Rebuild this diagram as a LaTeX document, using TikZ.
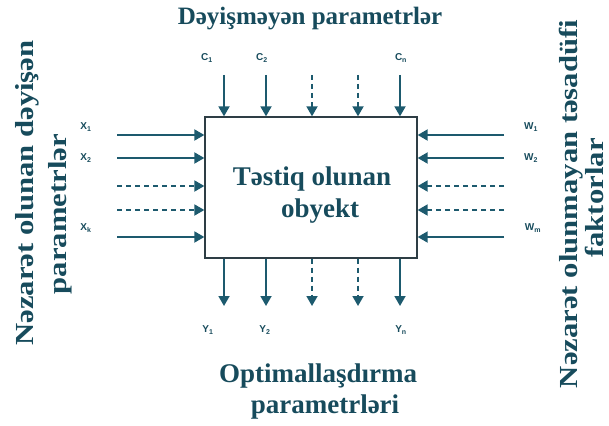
\documentclass[tikz,border=0pt]{standalone}
\usepackage{fontspec}
\setmainfont{Liberation Serif}
\newfontfamily\widefont[FakeStretch=1.18]{Liberation Serif}
\newfontfamily\lblfont{Liberation Sans}
\usetikzlibrary{arrows.meta}
\definecolor{tealtext}{HTML}{174B5C}
\definecolor{tealarrow}{HTML}{1D5A6E}
\definecolor{boxedge}{HTML}{2E3E45}
\tikzset{
  flow/.style={draw=tealarrow, line width=1.8pt, -{Triangle[width=11pt,length=10pt]}},
  dflow/.style={flow, dash pattern=on 5pt off 4pt},
  lbl/.style={font=\lblfont\bfseries\fontsize{10}{12}\selectfont, text=tealtext, inner sep=0pt},
  title/.style={font=\bfseries\fontsize{25}{30}\selectfont, text=tealtext, inner sep=0pt, anchor=base},
  boxtext/.style={font=\bfseries\fontsize{27}{32}\selectfont, text=tealtext, inner sep=0pt, anchor=base},
  sidetitle/.style={font=\widefont\bfseries\fontsize{26}{30}\selectfont, text=tealtext, inner sep=0pt, rotate=90, anchor=base},
}
\begin{document}
\begin{tikzpicture}[x=1pt,y=-1pt]
\useasboundingbox (0,0) rectangle (609,425);
% object box
\node[draw=boxedge, line width=1.3pt, minimum width=212pt, minimum height=141pt, inner sep=0pt] (obj) at (311,187.5) {};
\node[boxtext] (ot1) at (312,185) {Təstiq olunan};
\node[boxtext] (ot2) at (320,217) {obyekt};
% titles
\node[title] (top) at (310,25) {Dəyişməyən parametrlər};
\node[boxtext] (bot1) at (318,382) {Optimallaşdırma};
\node[boxtext] (bot2) at (325,413) {parametrləri};
\node[sidetitle] (lt1) at (33,193) {Nəzarət olunan dəyişən};
\node[sidetitle] (lt2) at (66,214) {parametrlər};
\node[sidetitle] (rt1) at (577,204) {Nəzarət olunmayan təsadüfi};
\node[sidetitle] (rt2) at (603.5,198) {faktorlar};
% top inputs
\foreach \n/\x/\s in {c1/224/flow,c2/266/flow,c3/312/dflow,c4/358/dflow,c5/400/flow}{
  \coordinate (\n) at (\x,75);
  \draw[\s] (\n) -- (\n |- obj.north);
}
\node[lbl] (lc1) at (207,58) {C\textsubscript{1}};
\node[lbl] (lc2) at (262,58) {C\textsubscript{2}};
\node[lbl] (lc5) at (401,58) {C\textsubscript{n}};
% bottom outputs
\foreach \n/\x/\s in {y1/224/flow,y2/266/flow,y3/312/dflow,y4/358/dflow,y5/400/flow}{
  \coordinate (\n) at (\x,306);
  \draw[\s] (\n |- obj.south) -- (\n);
}
\node[lbl] (ly1) at (208,330) {Y\textsubscript{1}};
\node[lbl] (ly2) at (265,330) {Y\textsubscript{2}};
\node[lbl] (ly5) at (401,330) {Y\textsubscript{n}};
% left inputs
\foreach \n/\y/\s in {x1/135/flow,x2/158/flow,x3/186/dflow,x4/210/dflow,x5/237/flow}{
  \coordinate (\n) at (117,\y);
  \draw[\s] (\n) -- (\n -| obj.west);
}
\node[lbl] (lx1) at (86,127) {X\textsubscript{1}};
\node[lbl] (lx2) at (86,158) {X\textsubscript{2}};
\node[lbl] (lx5) at (86,228) {X\textsubscript{k}};
% right inputs
\foreach \n/\y/\s in {w1/135/flow,w2/158/flow,w3/186/dflow,w4/210/dflow,w5/237/flow}{
  \coordinate (\n) at (504,\y);
  \draw[\s] (\n) -- (\n -| obj.east);
}
\node[lbl] (lw1) at (531,127) {W\textsubscript{1}};
\node[lbl] (lw2) at (531,158) {W\textsubscript{2}};
\node[lbl] (lw5) at (533,228) {W\textsubscript{m}};
\end{tikzpicture}
\end{document}
